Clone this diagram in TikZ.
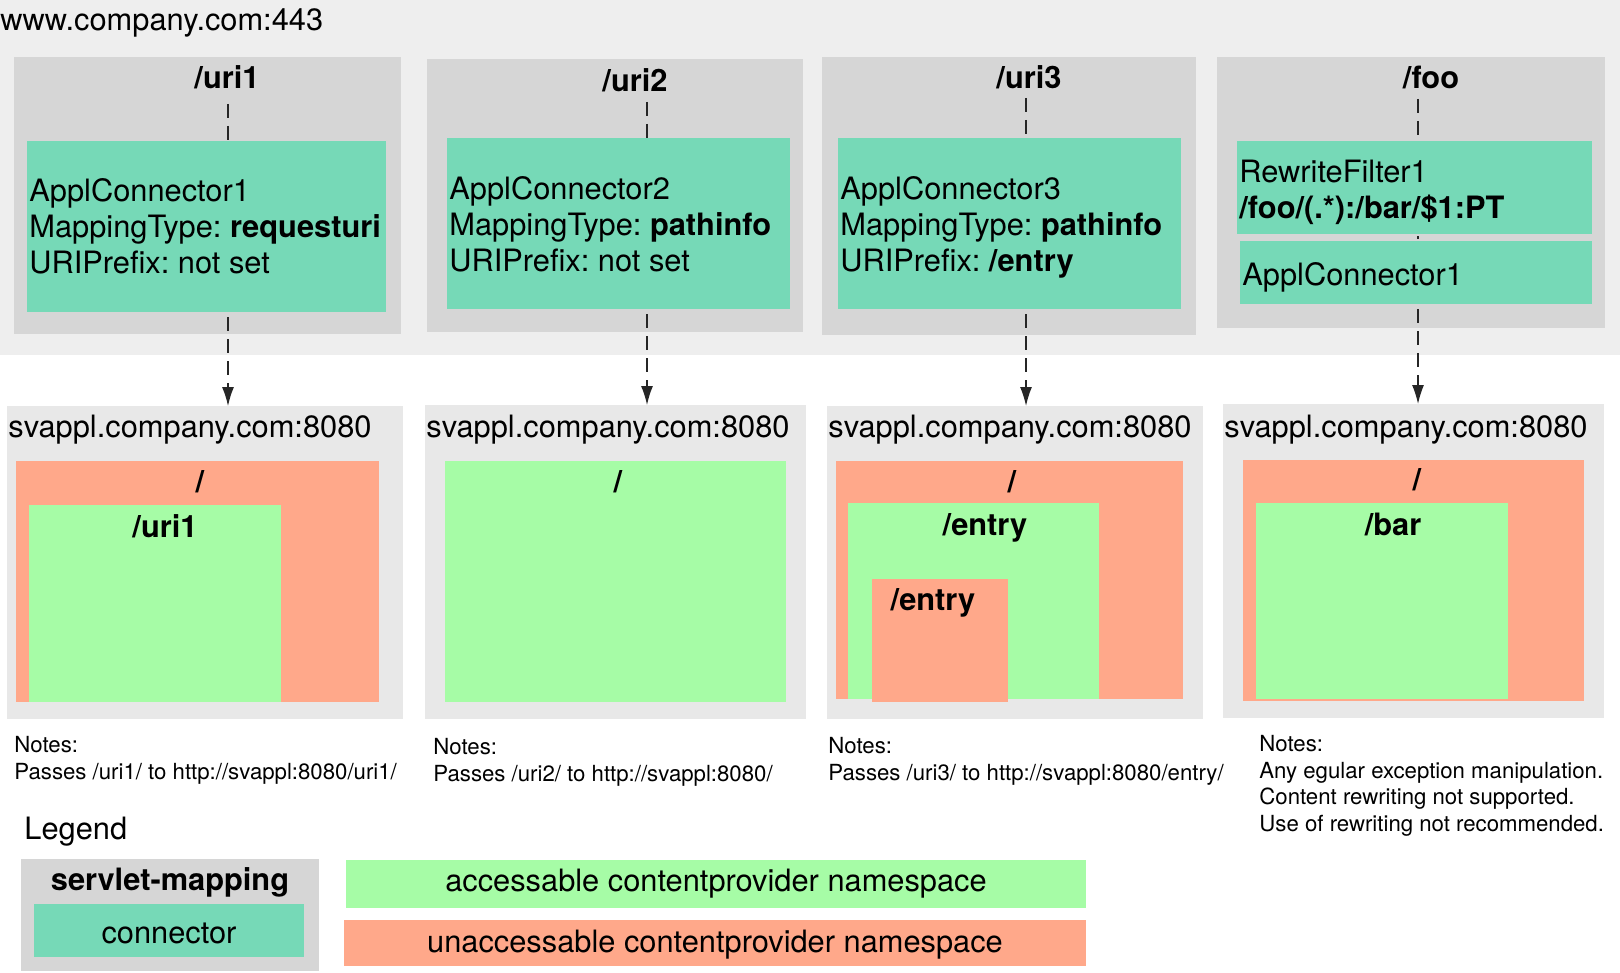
\documentclass[tikz,border=0pt]{standalone}
\usepackage{fontspec}
\setmainfont{TeX Gyre Heros}
\usetikzlibrary{arrows.meta}
\usetikzlibrary{positioning}
\frenchspacing
\definecolor{siteband}{RGB}{238,238,238}
\definecolor{mapgray}{RGB}{214,214,214}
\definecolor{hostgray}{RGB}{232,232,232}
\definecolor{conngreen}{RGB}{118,217,183}
\definecolor{okgreen}{RGB}{166,252,166}
\definecolor{nogo}{RGB}{255,168,138}
\tikzset{sz/.style 2 args={minimum width=#1*0.5pt, minimum height=#2*0.5pt}}
\tikzstyle{area}=[anchor=north west, inner sep=0, outer sep=0, draw=none]
\tikzstyle{mapping}=[area, fill=mapgray]
\tikzstyle{hostbox}=[area, fill=hostgray]
\tikzstyle{conn}=[area, fill=conngreen]
\tikzstyle{okns}=[area, fill=okgreen]
\tikzstyle{nons}=[area, fill=nogo]
\tikzstyle{conntext}=[align=left, inner sep=0]
\tikzstyle{uri}=[anchor=base, inner sep=0, font=\bfseries]
\tikzstyle{txt}=[anchor=base west, inner sep=0]
\tikzstyle{notes}=[anchor=north west, inner sep=0, align=left,
                   font=\fontsize{11.1}{13.25}\selectfont]
\tikzstyle{link}=[draw=black!85, line width=0.65pt, dash pattern=on 7pt off 4pt]
\tikzstyle{fwd}=[-{Latex[length=9.5pt,width=6pt]}, shorten <=2.5pt]

\begin{document}
\begin{tikzpicture}[x=0.5pt,y=-0.5pt]
\useasboundingbox (0,0) rectangle (1620,973);
\fontsize{15.4}{18}\selectfont

% front host
\node[area, fill=siteband, sz={1620}{355}] (site) at (0,0) {};
\node[txt] (sitename) at (0,31) {www.company.com:443};

% servlet mappings
\foreach \n/\x/\y/\w/\h in {1/14/57/387/277, 2/427/59/376/273,
                            3/822/57/374/278, 4/1217/57/388/271}
  \node[mapping, sz={\w}{\h}] (map\n) at (\x,\y) {};

\node[uri] (uri1) at (227,89) {/uri1};
\node[uri] (uri2) at (635,92) {/uri2};
\node[uri] (uri3) at (1029,89) {/uri3};
\node[uri] (uri4) at (1431,89) {/foo};

% connectors
\node[conn, sz={359}{171}] (conn1) at (27,141) {};
\node[conntext, right=1pt of conn1.west] (conn1t)
  {ApplConnector1\\MappingType: \textbf{requesturi}\\URIPrefix: not set};
\node[conn, sz={343}{171}] (conn2) at (447,138) {};
\node[conntext, right=1pt of conn2.west, yshift=-0.5pt] (conn2t)
  {ApplConnector2\\MappingType: \textbf{pathinfo}\\URIPrefix: not set};
\node[conn, sz={343}{171}] (conn3) at (838,138) {};
\node[conntext, right=1pt of conn3.west, yshift=-2pt] (conn3t)
  {ApplConnector3\\MappingType: \textbf{pathinfo}\\URIPrefix: \textbf{/entry}};
\node[conn, sz={355}{93}] (rw4) at (1237,141) {};
\node[conntext, right=1pt of rw4.west, yshift=-2.5pt] (rw4t)
  {RewriteFilter1\\\textbf{/foo/(.*):/bar/\$1:PT}};
\node[conn, sz={352}{63}] (conn4) at (1240,241) {};
\node[conntext, right=1pt of conn4.west, yshift=-2.5pt] (conn4t) {ApplConnector1};

% backend hosts
\foreach \n/\x/\y/\w/\h in {1/7/406/396/313, 2/425/405/381/314,
                            3/827/406/376/313, 4/1223/404/381/314}
{
  \node[hostbox, sz={\w}{\h}] (host\n) at (\x,\y) {};
  \node[txt] (host\n t) at (\x+1,437) {svappl.company.com:8080};
}

% namespaces
\node[nons, sz={363}{241}] (root1) at (16,461) {};
\node[uri] (root1t) at (200,492) {/};
\node[okns, sz={252}{197}] (ns1) at (29,505) {};
\node[uri] (ns1t) at (165,537) {/uri1};

\node[okns, sz={341}{241}] (root2) at (445,461) {};
\node[uri] (root2t) at (618,492) {/};

\node[nons, sz={347}{238}] (root3) at (836,461) {};
\node[uri] (root3t) at (1012,492) {/};
\node[okns, sz={251}{196}] (ns3) at (848,503) {};
\node[uri] (ns3t) at (985,535) {/entry};
\node[nons, sz={136}{123}] (sub3) at (872,579) {};
\node[uri] (sub3t) at (933,610) {/entry};

\node[nons, sz={341}{241}] (root4) at (1243,460) {};
\node[uri] (root4t) at (1417,490) {/};
\node[okns, sz={252}{196}] (ns4) at (1256,503) {};
\node[uri] (ns4t) at (1393,535) {/bar};

% request flow
\coordinate (tap1) at (228,104);
\coordinate (tap2) at (647,102);
\coordinate (tap3) at (1026,98);
\coordinate (tap4) at (1418,99);
\foreach \n in {1,2,3}
{
  \draw[link] (tap\n) -- (tap\n |- conn\n.north);
  \draw[link, fwd] (tap\n |- conn\n.south) -- (tap\n |- host\n.north);
}
\draw[link] (tap4) -- (tap4 |- rw4.north);
\draw[link, shorten <=2.5pt, shorten >=2.5pt] (tap4 |- rw4.south) -- (tap4 |- conn4.north);
\draw[link, fwd] (tap4 |- conn4.south) -- (tap4 |- host4.north);

% notes
\node[notes] (notes1) at (14,736) {Notes:\\Passes /uri1/ to http://svappl:8080/uri1/};
\node[notes] (notes2) at (433,738) {Notes:\\Passes /uri2/ to http://svappl:8080/};
\node[notes] (notes3) at (828,737) {Notes:\\Passes /uri3/ to http://svappl:8080/entry/};
\node[notes] (notes4) at (1259,735) {Notes:\\Any egular exception manipulation.\\
  Content rewriting not supported.\\Use of rewriting not recommended.};

% legend
\node[txt] (legend) at (24,839) {Legend};
\node[mapping, sz={298}{112}] (lgmap) at (21,859) {};
\node[uri] (lgmapt) at (170,890) {servlet-mapping};
\node[conn, sz={270}{53}] (lgconn) at (34,904) {};
\node[inner sep=0, below=1.5pt of lgconn.center, anchor=center] (lgconnt) {connector};
\node[okns, sz={740}{48}] (lgok) at (346,860) {accessable contentprovider namespace};
\node[nons, sz={742}{46}] (lgno) at (344,920) {};
\node[inner sep=0, below=1pt of lgno.center, anchor=center] (lgnot) {unaccessable contentprovider namespace};
\end{tikzpicture}
\end{document}
